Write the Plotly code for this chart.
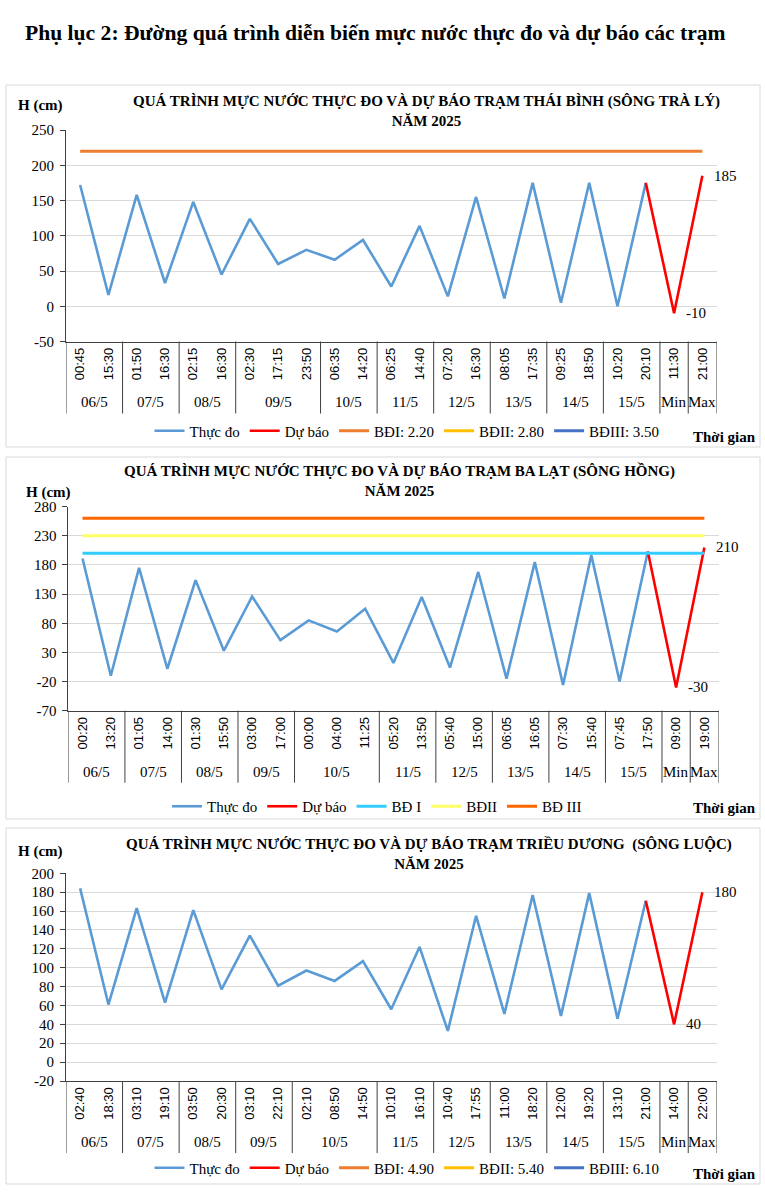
import plotly.graph_objects as go

W, H = 765, 1195

# ---------------- DATA ----------------
# Chart 1: Thái Bình (sông Trà Lý)
tb_dates = ["06/5", "07/5", "08/5", "09/5", "10/5", "11/5", "12/5", "13/5", "14/5", "15/5", "Min", "Max"]
tb_group_sizes = [2, 2, 2, 3, 2, 2, 2, 2, 2, 2, 1, 1]
tb_times = ["00:45", "15:30", "01:50", "16:30", "02:15", "16:30", "02:30", "17:15", "23:50",
            "06:35", "14:20", "06:25", "14:40", "07:20", "16:30", "08:05", "17:35",
            "09:25", "18:50", "10:20", "20:10", "11:30", "21:00"]
tb_measured = [172, 16, 158, 33, 148, 45, 124, 60, 80, 66, 94, 28, 114, 14, 155, 11, 175, 5, 175, 0, 175]
tb_forecast = [175, -10, 185]
tb_levels = [220, 280, 350]
tb_level_names = ["BĐI: 2.20", "BĐII: 2.80", "BĐIII: 3.50"]

# Chart 2: Ba Lạt (sông Hồng)
bl_dates = ["06/5", "07/5", "08/5", "09/5", "10/5", "11/5", "12/5", "13/5", "14/5", "15/5", "Min", "Max"]
bl_group_sizes = [2, 2, 2, 2, 3, 2, 2, 2, 2, 2, 1, 1]
bl_times = ["00:20", "13:20", "01:05", "14:00", "01:30", "15:50", "03:00", "17:00",
            "00:00", "04:00", "11:25", "05:20", "13:50", "05:40", "15:00", "06:05", "16:05",
            "07:30", "15:40", "07:45", "17:50", "09:00", "19:00"]
bl_measured = [191, -10, 175, 2, 154, 33, 126, 51, 85, 66, 105, 12, 125, 4, 168, -15, 185, -26, 197, -20, 203]
bl_forecast = [203, -30, 210]
bl_levels = [200, 230, 260]
bl_level_names = ["BĐ I", "BĐII", "BĐ III"]

# Chart 3: Triều Dương (sông Luộc)
td_dates = ["06/5", "07/5", "08/5", "09/5", "10/5", "11/5", "12/5", "13/5", "14/5", "15/5", "Min", "Max"]
td_group_sizes = [2, 2, 2, 2, 3, 2, 2, 2, 2, 2, 1, 1]
td_times = ["02:40", "18:30", "03:10", "19:10", "03:50", "20:30", "03:10", "22:10",
            "02:10", "08:50", "14:50", "10:10", "16:10", "10:40", "17:55", "11:00", "18:20",
            "12:00", "19:20", "13:10", "21:00", "14:00", "22:00"]
td_measured = [184, 61, 163, 63, 161, 77, 134, 81, 97, 86, 107, 56, 122, 33, 155, 51, 177, 49, 179, 46, 171]
td_forecast = [171, 40, 180]
td_levels = [490, 540, 610]
td_level_names = ["BĐI: 4.90", "BĐII: 5.40", "BĐIII: 6.10"]

# ---------------- STYLE ----------------
SERIF = "Liberation Serif"
SANS = "Liberation Sans"
C_MEAS = "#5B9BD5"
C_FC = "#FF0000"
LEVEL_COLORS_A = ["#ED7D31", "#FFC000", "#4472C4"]
LEVEL_COLORS_B = ["#33CCFF", "#FFFF66", "#FF6600"]
AXIS_C = "#404040"
GRID_C = "#D9D9D9"


def py(p):
    return 1 - p / H


def px(p):
    return p / W


fig = go.Figure()

charts = [
    dict(title="QUÁ TRÌNH MỰC NƯỚC THỰC ĐO VÀ DỰ BÁO TRẠM THÁI BÌNH (SÔNG TRÀ LÝ)",
         dates=tb_dates, sizes=tb_group_sizes, times=tb_times, meas=tb_measured, fc=tb_forecast,
         levels=tb_levels, lnames=tb_level_names, lcolors=LEVEL_COLORS_A,
         xdom=(66, 716.5), ydom=(130, 341.5), yrange=(-50, 250), dtick=50,
         box=(6, 85, 760, 447), title_xy=(426, 103, 119), hcm=(40.5, 106), legend_y=431,
         legend_x=407, tg_y=437),
    dict(title="QUÁ TRÌNH MỰC NƯỚC THỰC ĐO VÀ DỰ BÁO TRẠM BA LẠT (SÔNG HỒNG)",
         dates=bl_dates, sizes=bl_group_sizes, times=bl_times, meas=bl_measured, fc=bl_forecast,
         levels=bl_levels, lnames=bl_level_names, lcolors=LEVEL_COLORS_B,
         xdom=(68.4, 718.5), ydom=(506.7, 710.7), yrange=(-70, 280), dtick=50,
         box=(6, 457, 760, 819), title_xy=(399, 472, 489), hcm=(49, 492.5), legend_y=806.5,
         legend_x=377, tg_y=808),
    dict(title="QUÁ TRÌNH MỰC NƯỚC THỰC ĐO VÀ DỰ BÁO TRẠM TRIỀU DƯƠNG  (SÔNG LUỘC)",
         dates=td_dates, sizes=td_group_sizes, times=td_times, meas=td_measured, fc=td_forecast,
         levels=td_levels, lnames=td_level_names, lcolors=LEVEL_COLORS_A,
         xdom=(66, 716.5), ydom=(873.3, 1081), yrange=(-20, 200), dtick=20,
         box=(6, 828, 760, 1184), title_xy=(429, 846, 862), hcm=(40.5, 851), legend_y=1168,
         legend_x=407, tg_y=1174),
]

annotations = []
shapes = []

annotations.append(dict(text="<b>Phụ lục 2: Đường quá trình diễn biến mực nước thực đo và dự báo các trạm</b>",
                        x=px(375), y=py(33), xref="paper", yref="paper", showarrow=False,
                        xanchor="center", yanchor="middle",
                        font=dict(family=SERIF, size=21.6, color="black")))

for i, c in enumerate(charts):
    k = "" if i == 0 else str(i + 1)
    xa, ya = "x" + k, "y" + k
    leg = "legend" + k
    n = len(c["times"])
    idx = list(range(n))
    nm = len(c["meas"])

    fig.add_trace(go.Scatter(x=idx[:nm], y=c["meas"], mode="lines", name="Thực đo",
                             line=dict(color=C_MEAS, width=2.6), xaxis=xa, yaxis=ya, legend=leg,
                             hoverinfo="skip"))
    fc_x = idx[nm - 1:nm - 1 + len(c["fc"])]
    fig.add_trace(go.Scatter(x=fc_x, y=c["fc"], mode="lines", name="Dự báo",
                             line=dict(color=C_FC, width=2.6), xaxis=xa, yaxis=ya, legend=leg,
                             hoverinfo="skip"))
    for lv, ln, lc in zip(c["levels"], c["lnames"], c["lcolors"]):
        fig.add_trace(go.Scatter(x=[idx[0], idx[-1]], y=[lv, lv], mode="lines", name=ln,
                                 line=dict(color=lc, width=3), xaxis=xa, yaxis=ya, legend=leg,
                                 hoverinfo="skip"))

    # data labels for forecast min / max
    for xv, yv in zip(fc_x[1:], c["fc"][1:]):
        annotations.append(dict(x=xv, y=yv, xref=xa, yref=ya, text=str(yv), showarrow=False,
                                xanchor="left", yanchor="middle", xshift=10,
                                font=dict(family=SERIF, size=15, color="black")))

    y0, y1 = c["yrange"]
    yvals = list(range(y0, y1 + 1, c["dtick"]))
    fig.update_layout(**{
        "xaxis" + k: dict(domain=[px(c["xdom"][0]), px(c["xdom"][1])], anchor=ya,
                          range=[-0.5, n - 0.5], tickmode="array", tickvals=idx,
                          ticktext=c["times"], tickangle=-90, showgrid=False, zeroline=False,
                          showline=True, linecolor=AXIS_C, linewidth=1, ticks="",
                          tickfont=dict(family=SANS, size=13, color="black"),
                          fixedrange=True, automargin=False),
        "yaxis" + k: dict(domain=[py(c["ydom"][1]), py(c["ydom"][0])], anchor=xa,
                          range=[y0, y1], tickmode="array", tickvals=yvals,
                          ticktext=[str(v) for v in yvals],
                          showgrid=True, gridcolor=GRID_C, gridwidth=1, zeroline=False,
                          showline=True, linecolor=AXIS_C, linewidth=1, ticks="outside",
                          ticklen=5, tickcolor=AXIS_C, ticklabelstandoff=3,
                          tickfont=dict(family=SERIF, size=15, color="black"),
                          fixedrange=True, automargin=False),
        leg: dict(orientation="h", x=px(c["legend_x"]), y=py(c["legend_y"]), xanchor="center",
                  yanchor="middle", font=dict(family=SERIF, size=15, color="black"),
                  itemwidth=30, bgcolor="rgba(0,0,0,0)", traceorder="normal",
                  tracegroupgap=0, itemclick=False, itemdoubleclick=False),
    })

    # group dividers and date labels
    start = -0.5
    div_bottom = c["ydom"][1] + 72
    shapes.append(dict(type="line", xref=xa, yref="paper", x0=start, x1=start,
                       y0=py(c["ydom"][1]), y1=py(div_bottom), line=dict(color=AXIS_C, width=1)))
    for d, s in zip(c["dates"], c["sizes"]):
        end = start + s
        shapes.append(dict(type="line", xref=xa, yref="paper", x0=end, x1=end,
                           y0=py(c["ydom"][1]), y1=py(div_bottom), line=dict(color=AXIS_C, width=1)))
        annotations.append(dict(x=(start + end) / 2, y=py(c["ydom"][1] + 61), xref=xa, yref="paper",
                                text=d, showarrow=False, xanchor="center", yanchor="middle",
                                font=dict(family=SERIF, size=15, color="black")))
        start = end

    # title, axis title, x title
    annotations.append(dict(text="<b>" + c["title"] + "</b><br><b>NĂM 2025</b>",
                            x=px(c["title_xy"][0]), y=py((c["title_xy"][1] + c["title_xy"][2]) / 2),
                            xref="paper", yref="paper", showarrow=False, xanchor="center",
                            yanchor="middle", align="center",
                            font=dict(family=SERIF, size=15, color="black")))
    annotations.append(dict(text="<b>H (cm)</b>", x=px(c["hcm"][0]), y=py(c["hcm"][1]),
                            xref="paper", yref="paper", showarrow=False, xanchor="center",
                            yanchor="middle", font=dict(family=SERIF, size=15, color="black")))
    annotations.append(dict(text="<b>Thời gian</b>", x=px(758), y=py(c["tg_y"]),
                            xref="paper", yref="paper", showarrow=False, xanchor="right",
                            yanchor="middle", font=dict(family=SERIF, size=15, color="black")))
    b = c["box"]
    shapes.append(dict(type="rect", xref="paper", yref="paper", x0=px(b[0]), x1=px(b[2]),
                       y0=py(b[3]), y1=py(b[1]), line=dict(color=GRID_C, width=1),
                       fillcolor="rgba(0,0,0,0)", layer="below"))

fig.update_layout(width=W, height=H, margin=dict(l=0, r=0, t=0, b=0, pad=0, autoexpand=False),
                  paper_bgcolor="white", plot_bgcolor="white",
                  annotations=annotations, shapes=shapes, showlegend=True,
                  hovermode=False)

fig.write_html("out.html", config={"displayModeBar": False},
               post_script="document.body.style.margin='0';document.body.style.padding='0';"
                           "document.body.style.overflow='hidden';")
